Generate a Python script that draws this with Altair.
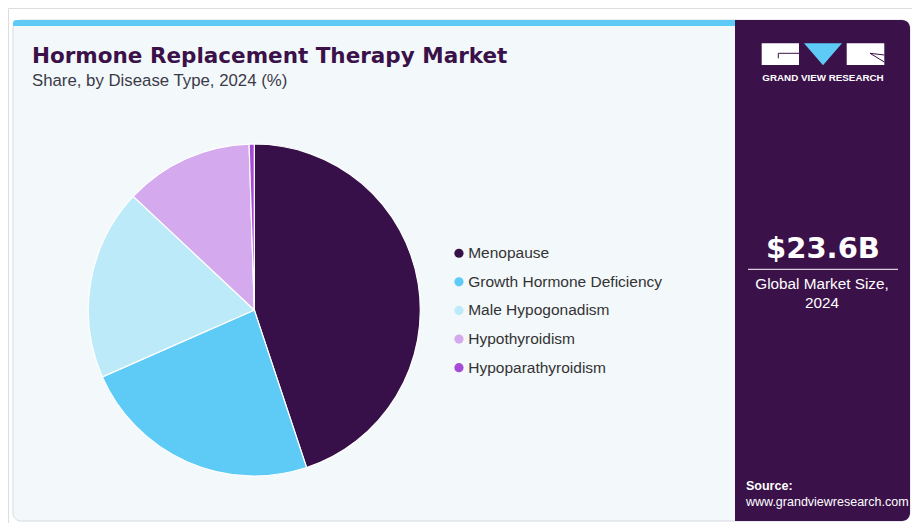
import altair as alt
import pandas as pd

# ---- data ----
categories = ["Menopause", "Growth Hormone Deficiency", "Male Hypogonadism",
              "Hypothyroidism", "Hypoparathyroidism"]
shares = [44.9, 23.5, 18.6, 12.5, 0.5]
colors = ["#381049", "#5ecbf6", "#bdeaf9", "#d5a9ed", "#a64bd7"]

title_text = "Hormone Replacement Therapy Market"
subtitle_text = "Share, by Disease Type, 2024 (%)"
market_value = "$23.6B"
market_label = ["Global Market Size,", "2024"]
source_label = "Source:"
source_url = "www.grandviewresearch.com"
brand = "GRAND VIEW RESEARCH"

DARK = "#3a1149"
CYAN = "#5ecbf6"
LIGHT = "#f3f8fb"
OFF = 8  # page margin

one = pd.DataFrame({"a": [0]})


def rect(x1, y1, x2, y2, **kw):
    return alt.Chart(one).mark_rect(**kw).encode(
        x=alt.value(x1 - OFF), x2=alt.value(x2 - OFF),
        y=alt.value(y1 - OFF), y2=alt.value(y2 - OFF))


def rule(x1, y1, x2, y2, **kw):
    return alt.Chart(one).mark_rule(**kw).encode(
        x=alt.value(x1 - OFF), x2=alt.value(x2 - OFF),
        y=alt.value(y1 - OFF), y2=alt.value(y2 - OFF))


def text(s, x, y, **kw):
    return alt.Chart(pd.DataFrame({"t": [s]})).mark_text(**kw).encode(
        text="t:N", x=alt.value(x - OFF), y=alt.value(y - OFF))


layers = []
# card
layers.append(rect(13, 20, 910, 521, fill=LIGHT, stroke="#d6dbe0", strokeWidth=1, cornerRadius=8))
layers.append(rect(13, 20, 735, 26, fill=CYAN, cornerRadiusTopLeft=7))
layers.append(rect(735, 20, 910, 521, fill=DARK, cornerRadiusTopRight=8, cornerRadiusBottomRight=8))

# logo
layers.append(rect(761.7, 43.3, 799, 65, fill="white"))
layers.append(rect(846.7, 43.3, 884.3, 65, fill="white"))
layers.append(rule(778.3, 53.3, 799, 53.3, color=DARK, strokeWidth=1))
layers.append(rule(778.3, 53.3, 778.3, 58.3, color=DARK, strokeWidth=1))
layers.append(rule(870, 53.3, 884.3, 55, color=DARK, strokeWidth=1))
layers.append(rule(870, 53.3, 884.3, 62, color=DARK, strokeWidth=1))
layers.append(alt.Chart(one).mark_point(
    shape="M -1 -0.58 L 1 -0.58 L 0 0.58 Z", size=38 * 38, filled=True,
    fill=CYAN, opacity=1, strokeWidth=0).encode(
    x=alt.value(823 - OFF), y=alt.value(54.2 - OFF)))
layers.append(text(brand, 823, 78, font="Liberation Sans", fontWeight="bold",
                   fontSize=9.8, color="white", align="center", baseline="middle"))

# titles
layers.append(text(title_text, 32, 63.3, font="DejaVu Sans", fontWeight="bold",
                   fontSize=21.5, color=DARK, align="left", baseline="alphabetic"))
layers.append(text(subtitle_text, 32, 86, font="Liberation Sans",
                   fontSize=16.8, color="#3a3a48", align="left", baseline="alphabetic"))

# right panel figures
layers.append(text(market_value, 823, 248.5, font="DejaVu Sans", fontWeight="bold",
                   fontSize=29, color="white", align="center", baseline="middle"))
layers.append(rule(748, 269.3, 898, 269.3, color="white", strokeWidth=1))
layers.append(text(market_label[0], 822, 284, font="Liberation Sans",
                   fontSize=15.3, color="white", align="center", baseline="middle"))
layers.append(text(market_label[1], 822, 303, font="Liberation Sans",
                   fontSize=15.3, color="white", align="center", baseline="middle"))
layers.append(text(source_label, 746, 486, font="Liberation Sans", fontWeight="bold",
                   fontSize=12.5, color="white", align="left", baseline="middle"))
layers.append(text(source_url, 746, 502, font="Liberation Sans",
                   fontSize=12.5, color="white", align="left", baseline="middle"))

# pie
df = pd.DataFrame({"category": categories, "share": shares, "idx": list(range(len(categories)))})
pie = alt.Chart(df).mark_arc(radius=166, stroke="white", strokeWidth=1.2).encode(
    theta=alt.Theta("share:Q", stack=True),
    order=alt.Order("idx:Q"),
    color=alt.Color("category:N",
                    scale=alt.Scale(domain=categories, range=colors),
                    legend=alt.Legend(title=None, orient="none",
                                      legendX=456.2 - 5 - OFF, legendY=253.3 - 7.8 - OFF,
                                      symbolType="circle", symbolSize=85,
                                      symbolStrokeWidth=0, labelFontSize=15.5,
                                      labelFont="Liberation Sans", labelColor="#333333",
                                      labelLimit=400,
                                      rowPadding=11.6, labelOffset=1.5, padding=0)),
    x=alt.value(254.3 - OFF), y=alt.value(310 - OFF),
)
layers.append(pie)

chart = alt.layer(*layers).properties(
    width=904, height=515,
    autosize=alt.AutoSizeParams(type="none"),
    padding=0,
).configure_view(stroke=None).configure(background="white")

chart.save("out.html", embed_options={"renderer": "svg", "actions": False})
